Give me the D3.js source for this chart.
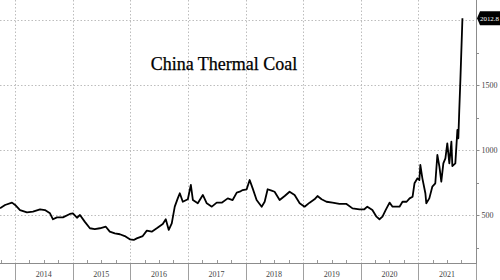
<!DOCTYPE html>
<html>
<head>
<meta charset="utf-8">
<script src="https://cdn.jsdelivr.net/npm/d3@7"></script>
<style>
  body { margin: 0; background: #fff; }
  svg { display: block; }
</style>
</head>
<body>
<div id="chart"></div>
<script>
// China thermal coal price (yuan/t)
let dates = [
  "2013-09-27","2013-10-29","2013-12-12","2014-01-01","2014-02-01","2014-03-17",
  "2014-04-24","2014-06-08","2014-07-09","2014-08-10","2014-08-29","2014-09-23",
  "2014-10-31","2014-12-14","2015-01-02","2015-01-28","2015-02-16","2015-03-18",
  "2015-04-20","2015-05-21","2015-06-22","2015-07-30","2015-08-24","2015-09-25",
  "2015-10-27","2015-11-27","2015-12-29","2016-01-23","2016-02-11","2016-03-20",
  "2016-04-15","2016-05-16","2016-06-17","2016-07-25","2016-08-13","2016-09-01",
  "2016-09-20","2016-10-09","2016-10-28","2016-11-10","2016-11-29","2016-12-31",
  "2017-01-19","2017-02-01","2017-03-04","2017-04-05","2017-04-30","2017-06-01",
  "2017-07-02","2017-08-03","2017-09-10","2017-10-11","2017-11-06","2017-11-25",
  "2017-12-14","2018-01-08","2018-01-27","2018-02-15","2018-03-12","2018-04-13",
  "2018-05-02","2018-05-21","2018-06-15","2018-07-04","2018-08-05","2018-09-06",
  "2018-10-07","2018-11-08","2018-12-10","2019-01-10","2019-02-11","2019-03-14",
  "2019-04-02","2019-04-28","2019-05-29","2019-07-06","2019-08-19","2019-10-03",
  "2019-11-10","2019-12-24","2020-01-24","2020-02-12","2020-03-15","2020-04-10",
  "2020-04-29","2020-05-18","2020-06-07","2020-07-02","2020-07-21","2020-08-15",
  "2020-09-03","2020-09-22","2020-10-18","2020-11-06","2020-11-25","2020-12-07",
  "2020-12-26","2021-01-07","2021-01-13","2021-01-26","2021-02-14","2021-02-20",
  "2021-03-11","2021-03-30","2021-04-18","2021-05-01","2021-05-14","2021-05-26",
  "2021-06-08","2021-06-21","2021-07-03","2021-07-16","2021-07-29","2021-08-04",
  "2021-08-23","2021-09-05","2021-09-11","2021-09-17","2021-09-24","2021-10-07"
];
let prices = [
  551, 577, 595, 577, 538, 521,
  526, 544, 538, 513, 467, 482,
  482, 508, 513, 479, 500, 449,
  398, 392, 398, 410, 372, 359,
  352, 338, 313, 308, 320, 338,
  380, 372, 398, 431, 467, 385,
  436, 564, 628, 667, 602, 621,
  731, 615, 590, 654, 590, 564,
  595, 595, 628, 615, 672, 679,
  692, 698, 769, 705, 615, 564,
  602, 698, 687, 679, 615, 646,
  679, 654, 590, 564, 595, 621,
  646, 621, 602, 595, 585, 585,
  551, 544, 544, 564, 538, 487,
  467, 487, 538, 595, 564, 564,
  564, 602, 602, 628, 641, 744,
  782, 769, 885, 782, 667, 590,
  628, 718, 744, 962, 872, 756,
  897, 936, 1051, 897, 1064, 877,
  897, 1154, 1090, 1308, 1538, 2012.8
];
let yTicks = [500, 1000, 1500, 2000];
let yMinorTicks = [250, 750, 1250, 1750];
let years = [2014, 2015, 2016, 2017, 2018, 2019, 2020, 2021];
let titleText = "China Thermal Coal";
let lastLabel = "2012.8";

let width = 500;
let height = 280;
let plotRight = 476;
let axisY = 263;

let parse = d3.timeParse("%Y-%m-%d");
let data = dates.map((d, i) => ({date: parse(d), value: prices[i]}));

let svg = d3.select("#chart")
  .append("svg")
  .attr("width", width).attr("height", height);

let xScale = d3.scaleTime()
  .domain([parse("2013-09-27"), parse("2022-01-01")])
  .range([0, plotRight]);
let yScale = d3.scaleLinear()
  .domain([0, 2000])
  .range([280, 20]);

// horizontal grid
svg.append("g").selectAll("line")
  .data(yTicks).enter()
  .append("line")
  .attr("x1", 0).attr("x2", plotRight)
  .attr("y1", d => Math.round(yScale(d)) + 0.5)
  .attr("y2", d => Math.round(yScale(d)) + 0.5)
  .attr("stroke", "#bdbdbd")
  .attr("stroke-width", 1)
  .attr("stroke-dasharray", "1.5,2");

// vertical year grid
let yearStarts = years.map(y => new Date(y, 0, 1));
svg.append("g").selectAll("line")
  .data(yearStarts).enter()
  .append("line")
  .attr("x1", d => Math.round(xScale(d)) + 0.5)
  .attr("x2", d => Math.round(xScale(d)) + 0.5)
  .attr("y1", 0).attr("y2", axisY)
  .attr("stroke", "#bdbdbd")
  .attr("stroke-width", 1)
  .attr("stroke-dasharray", "1.5,2");

// year separators below axis
let sepDates = yearStarts.concat([new Date(2022, 0, 1)]);
svg.append("g").selectAll("line")
  .data(sepDates).enter()
  .append("line")
  .attr("x1", d => Math.round(xScale(d)) + 0.5)
  .attr("x2", d => Math.round(xScale(d)) + 0.5)
  .attr("y1", axisY).attr("y2", height)
  .attr("stroke", "#a0a0a0");

// quarter ticks on the time axis
let quarters = d3.timeMonth.every(3).range(parse("2013-10-01"), parse("2022-01-01"))
  .filter(d => d.getMonth() !== 0);
svg.append("g").selectAll("line")
  .data(quarters).enter()
  .append("line")
  .attr("x1", d => Math.round(xScale(d)) + 0.5)
  .attr("x2", d => Math.round(xScale(d)) + 0.5)
  .attr("y1", axisY - 3).attr("y2", axisY)
  .attr("stroke", "#999");

// bottom axis line
svg.append("line")
  .attr("x1", 0).attr("x2", plotRight + 0.5)
  .attr("y1", axisY + 0.5).attr("y2", axisY + 0.5)
  .attr("stroke", "#8c8c8c");

// year labels
svg.append("g").selectAll("text")
  .data(years).enter()
  .append("text")
  .attr("x", d => xScale(new Date(d, 6, 1)))
  .attr("y", 277)
  .attr("text-anchor", "middle")
  .attr("font-family", "Liberation Serif, serif")
  .attr("font-size", 8)
  .attr("fill", "#444")
  .text(d => d);

// right axis
let yAxis = d3.axisRight(yScale)
  .tickValues(yTicks.filter(d => d < 2000))
  .tickFormat(d3.format("d"))
  .tickSize(3)
  .tickSizeOuter(0);
let gy = svg.append("g")
  .attr("transform", `translate(${plotRight + 0.5},0)`)
  .call(yAxis);
gy.select(".domain").remove();
gy.selectAll("line").attr("stroke", "#8c8c8c");
gy.selectAll("text")
  .attr("font-family", "Liberation Serif, serif")
  .attr("font-size", 8)
  .attr("fill", "#444")
  .attr("x", 5);
svg.append("g").selectAll("line")
  .data(yMinorTicks).enter()
  .append("line")
  .attr("x1", plotRight).attr("x2", plotRight + 3)
  .attr("y1", d => Math.round(yScale(d)) + 0.5)
  .attr("y2", d => Math.round(yScale(d)) + 0.5)
  .attr("stroke", "#8c8c8c");
svg.append("line")
  .attr("x1", plotRight + 0.5).attr("x2", plotRight + 0.5)
  .attr("y1", 0).attr("y2", axisY + 1)
  .attr("stroke", "#8c8c8c");

// price line
let line = d3.line()
  .x(d => xScale(d.date))
  .y(d => yScale(d.value));
svg.append("path")
  .datum(data)
  .attr("fill", "none")
  .attr("stroke", "#000")
  .attr("stroke-width", 1.8)
  .attr("stroke-linejoin", "round")
  .attr("d", line);

// title
svg.append("text")
  .attr("x", 224)
  .attr("y", 70)
  .attr("text-anchor", "middle")
  .attr("font-family", "Liberation Serif, serif")
  .attr("font-size", 18)
  .attr("fill", "#000")
  .attr("stroke", "#000")
  .attr("stroke-width", 0.25)
  .text(titleText);

// last value flag
let ly = yScale(prices[prices.length - 1]);
svg.append("path")
  .attr("d", `M${plotRight + 1},${ly} L${plotRight + 4},${ly - 7} L${width},${ly - 7} L${width},${ly + 7} L${plotRight + 4},${ly + 7} Z`)
  .attr("fill", "#000");
svg.append("text")
  .attr("x", plotRight + 4)
  .attr("y", ly + 2.5)
  .attr("font-family", "Liberation Serif, serif")
  .attr("font-size", 7)
  .attr("textLength", 19)
  .attr("lengthAdjust", "spacingAndGlyphs")
  .attr("fill", "#fff")
  .text(lastLabel);
</script>
</body>
</html>
